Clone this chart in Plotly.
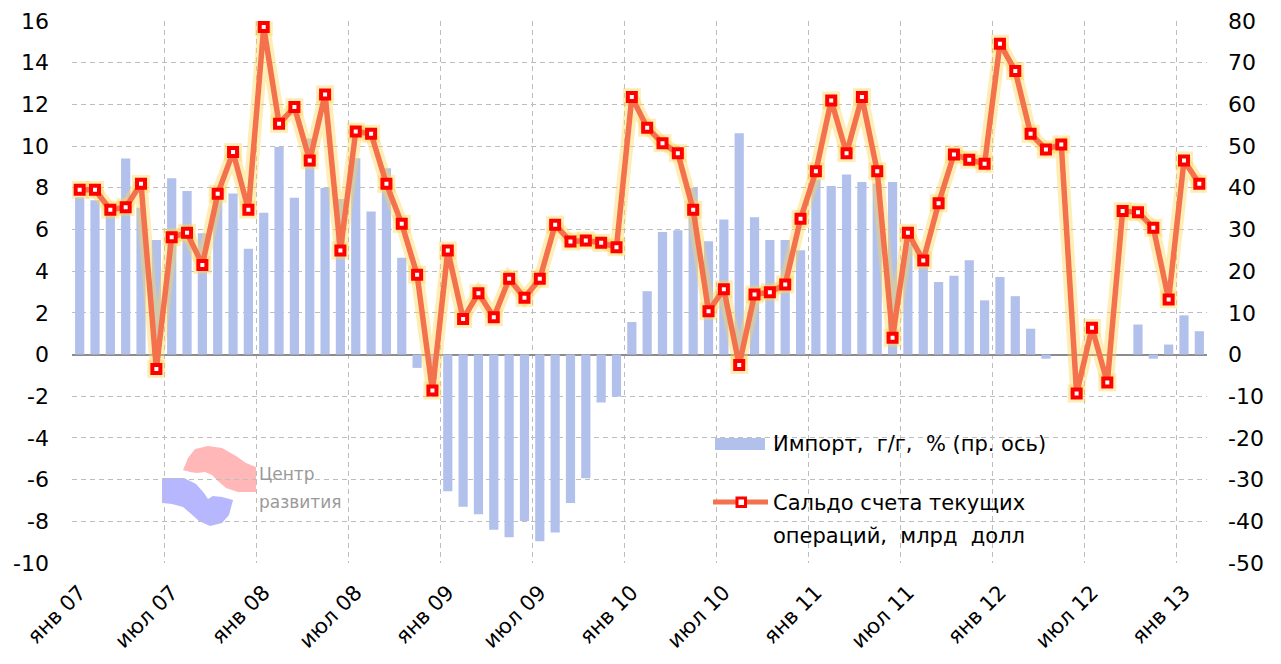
import plotly.graph_objects as go

# ---------------- data ----------------
months = [f"{m} {y:02d}" for y in range(7, 14) for m in
          ["янв", "фев", "мар", "апр", "май", "июн", "июл", "авг", "сен", "окт", "ноя", "дек"]][:74]

tick_labels = ["янв 07", "июл 07", "янв 08", "июл 08", "янв 09", "июл 09", "янв 10",
               "июл 10", "янв 11", "июл 11", "янв 12", "июл 12", "янв 13"]

left_ticks = [16, 14, 12, 10, 8, 6, 4, 2, 0, -2, -4, -6, -8, -10]
right_ticks = [80, 70, 60, 50, 40, 30, 20, 10, 0, -10, -20, -30, -40, -50]

# Сальдо счета текущих операций, млрд долл (левая ось)
current_account = [7.9, 7.9, 6.95, 7.07, 8.19, -0.69, 5.63, 5.84, 4.3, 7.71, 9.71, 6.95,
                   15.71, 11.07, 11.87, 9.31, 12.48, 4.99, 10.7, 10.59, 8.19, 6.27, 3.83, -1.73,
                   4.99, 1.71, 2.94, 1.79, 3.63, 2.72, 3.63, 6.23, 5.42, 5.47, 5.36, 5.15,
                   12.35, 10.88, 10.14, 9.66, 6.95, 2.08, 3.13, -0.5, 2.88, 2.99, 3.36, 6.51,
                   8.79, 12.19, 9.66, 12.35, 8.79, 0.8, 5.84, 4.51, 7.26, 9.6, 9.35, 9.15,
                   14.91, 13.6, 10.59, 9.84, 10.08, -1.87, 1.28, -1.34, 6.88, 6.83, 6.08, 2.64,
                   9.31, 8.19]

# Импорт, г/г, % (правая ось)
imports_yoy = [37.7, 37.0, 35.5, 47.0, 35.2, 27.5, 42.3, 39.2, 29.1, 38.0, 38.6, 25.4,
               34.0, 49.8, 37.6, 51.8, 40.0, 37.3, 47.1, 34.3, 44.7, 23.2, -3.2, -6.0,
               -32.8, -36.5, -38.3, -42.0, -43.8, -39.9, -44.8, -42.7, -35.6, -29.7, -11.5, -10.1,
               7.8, 15.2, 29.4, 29.8, 40.0, 27.2, 32.4, 53.1, 32.9, 27.5, 27.5, 25.0,
               42.0, 40.4, 43.2, 41.4, 41.0, 41.4, 26.6, 21.0, 17.4, 18.9, 22.6, 13.0,
               18.6, 14.0, 6.2, -1.0, 0.0, 0.0, 0.0, 0.0, 0.0, 7.2, -1.0, 2.4,
               9.4, 5.6]

name_imports = "Импорт,  г/г,  % (пр. ось)"
name_ca = "Сальдо счета текущих операций,  млрд  долл"

# ---------------- styling ----------------
FONT = "DejaVu Sans, Liberation Sans, Arial, sans-serif"
BAR_COLOR = "#B2C1EB"
LINE_COLOR = "#F3724D"
GLOW = "rgba(255,212,80,0.42)"
GRID = "#BDBDBD"
DASH = "5px,4px"

x_idx = list(range(len(months)))

fig = go.Figure()

fig.add_trace(go.Bar(
    x=x_idx, y=imports_yoy, yaxis="y", width=0.6,
    marker=dict(color=BAR_COLOR, line=dict(width=0)),
    name=name_imports, showlegend=False,
    hovertext=months,
))

# glow behind line
fig.add_trace(go.Scatter(
    x=x_idx, y=current_account, yaxis="y2", mode="lines+markers",
    line=dict(color=GLOW, width=13),
    marker=dict(symbol="square", size=18, color=GLOW, line=dict(width=0)),
    showlegend=False, hoverinfo="skip",
))

fig.add_trace(go.Scatter(
    x=x_idx, y=current_account, yaxis="y2", mode="lines+markers",
    line=dict(color=LINE_COLOR, width=5.5),
    marker=dict(symbol="square", size=8, color="white", line=dict(color="#FF0000", width=4)),
    name=name_ca, showlegend=False, hovertext=months,
))

# plot area in pixels
L, R, T, B = 72, 1207, 21, 563
W, H = 1281, 664


def px(xp):
    return (xp - L) / (R - L)


def py(yp):
    return (B - yp) / (B - T)


shapes = []
annotations = []

TXT = dict(family=FONT, size=21, color="#000")

# manual legend
shapes.append(dict(type="rect", xref="paper", yref="paper",
                   x0=px(715), x1=px(765), y0=py(450), y1=py(438),
                   fillcolor=BAR_COLOR, line=dict(width=0)))
shapes.append(dict(type="line", xref="paper", yref="paper",
                   x0=px(713), x1=px(768), y0=py(502), y1=py(502),
                   line=dict(color=LINE_COLOR, width=5)))
shapes.append(dict(type="rect", xref="paper", yref="paper",
                   x0=px(737), x1=px(745.5), y0=py(506.5), y1=py(498),
                   fillcolor="white", line=dict(color="#FF0000", width=3)))
annotations.append(dict(xref="paper", yref="paper", x=px(771), y=py(444),
                        xanchor="left", yanchor="middle", showarrow=False,
                        text="Импорт,\u00a0 г/г,\u00a0 %\u00a0(пр.\u00a0ось)", font=TXT))
annotations.append(dict(xref="paper", yref="paper", x=px(771), y=py(503),
                        xanchor="left", yanchor="middle", showarrow=False,
                        text="Сальдо счета текущих", font=TXT))
annotations.append(dict(xref="paper", yref="paper", x=px(771), y=py(536),
                        xanchor="left", yanchor="middle", showarrow=False,
                        text="операций,\u00a0 млрд\u00a0 долл", font=TXT))


# logo "Центр развития"
def path(points):
    return "M " + " L ".join(f"{px(a):.4f},{py(b):.4f}" for a, b in points) + " Z"


pink = [(183, 470), (188, 458), (195, 449), (208, 446), (222, 448), (236, 456), (246, 463),
        (256, 467), (256, 492), (238, 492), (226, 488), (218, 481), (212, 475), (205, 472),
        (197, 473), (190, 472)]
blue = [(162, 478), (184, 478), (196, 484), (204, 493), (208, 499), (213, 496), (222, 497),
        (233, 500), (229, 515), (222, 523), (210, 526), (199, 521), (190, 513), (183, 507),
        (172, 504), (162, 503)]
shapes.append(dict(type="path", xref="paper", yref="paper", path=path(pink),
                   fillcolor="rgba(255,165,165,0.8)", line=dict(width=0), layer="below"))
shapes.append(dict(type="path", xref="paper", yref="paper", path=path(blue),
                   fillcolor="rgba(165,165,255,0.8)", line=dict(width=0), layer="below"))
annotations.append(dict(xref="paper", yref="paper", x=px(257), y=py(474),
                        xanchor="left", yanchor="middle", showarrow=False, text="Центр",
                        font=dict(family=FONT, size=17, color="#9A9A9A")))
annotations.append(dict(xref="paper", yref="paper", x=px(257), y=py(502),
                        xanchor="left", yanchor="middle", showarrow=False, text="развития",
                        font=dict(family=FONT, size=17, color="#9A9A9A")))

fig.update_layout(
    width=W, height=H,
    margin=dict(l=L, r=W - R, t=T, b=H - B, pad=0, autoexpand=False),
    paper_bgcolor="white", plot_bgcolor="white",
    font=TXT,
    showlegend=False,
    xaxis=dict(
        range=[-0.5, len(months) - 0.5], automargin=False,
        tickmode="array", tickvals=[6 * k for k in range(len(tick_labels))], ticktext=tick_labels,
        tickangle=-45, ticks="", showgrid=False, zeroline=False, showline=False,
        ticklabelstandoff=12,
        tickfont=dict(family=FONT, size=21, color="#000"),
        minor=dict(tickmode="array", tickvals=[6 * k - 0.5 for k in range(len(tick_labels))],
                   showgrid=True, gridcolor=GRID, griddash=DASH, gridwidth=1, ticks=""),
    ),
    yaxis=dict(
        side="right", range=[-50, 80], automargin=False,
        tickmode="array", tickvals=right_ticks, ticktext=[str(v) for v in right_ticks],
        showgrid=True, gridcolor=GRID, griddash=DASH, gridwidth=1,
        zeroline=True, zerolinecolor="#8C8C8C", zerolinewidth=1.5,
        ticks="", ticklabelstandoff=20, showline=False,
        tickfont=dict(family=FONT, size=22, color="#000"),
    ),
    yaxis2=dict(
        side="left", overlaying="y", range=[-10, 16], automargin=False,
        tickmode="array", tickvals=left_ticks, ticktext=[str(v) for v in left_ticks],
        showgrid=False, zeroline=False, ticks="", ticklabelstandoff=22, showline=False,
        tickfont=dict(family=FONT, size=22, color="#000"),
    ),
    shapes=shapes,
    annotations=annotations,
)

fig.write_html("out.html", config={"displayModeBar": False},
               post_script="document.body.style.margin='0';document.body.style.overflow='hidden';")
